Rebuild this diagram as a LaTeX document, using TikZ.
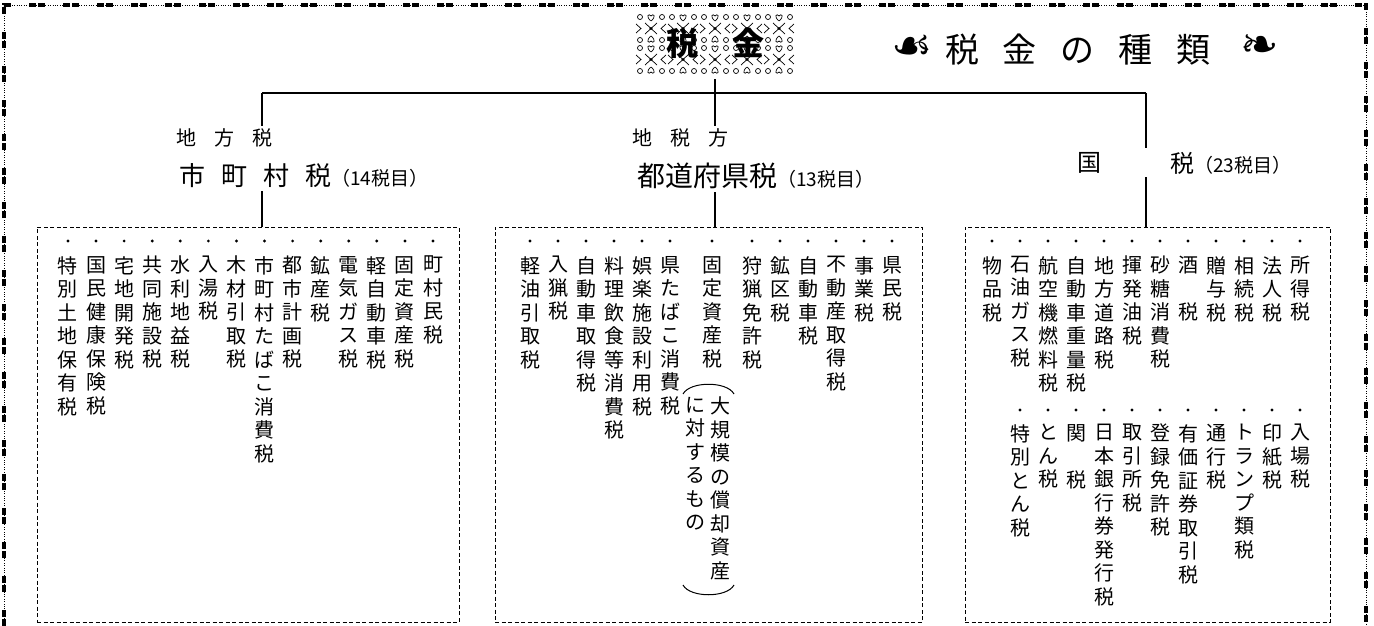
\documentclass[tikz,border=0pt]{standalone}
\usepackage{fontspec}
\newfontfamily\jp{Noto Sans CJK JP}
\newfontfamily\orn{DejaVu Sans}

% vertical text: one character per row
\makeatletter
\newcommand\tate[1]{\edef\tate@s{#1}\vbox{\baselineskip=23.5pt\lineskip=0pt\lineskiplimit=-100pt\expandafter\tate@loop\tate@s\relax}}
\def\tate@loop#1{\ifx\relax#1\else\hbox to 22pt{\hss#1\hss}\expandafter\tate@loop\fi}
\makeatother
\protected\def\aki{\phantom{税}}

\begin{document}
\begin{tikzpicture}[x=1pt, y=-1pt,
    col/.style={anchor=north, inner sep=0pt, font=\jp\fontsize{20pt}{23.5pt}\selectfont},
    taxbox/.style={draw, line width=0.6pt, dash pattern=on 4pt off 2.5pt, inner sep=0pt},
    conn/.style={line width=1.6pt},
    pat/.style={line width=0.7pt},
    rimthick/.style={line width=3.2pt, dash pattern=on 7pt off 2pt on 7pt off 18pt},
    rimthin/.style={line width=0.6pt, dash pattern=on 0.8pt off 1.6pt}]
\useasboundingbox (0,0) rectangle (1374,626);

% Frame
\draw[rimthin] (4,626) -- (4,5) -- (1366,5) -- (1366,626);
\draw[rimthick] (4,626) -- (4,5) -- (1366,5) -- (1366,626);

% Header pattern
\foreach \i in {0,...,4}
    \foreach \j in {0,1} {
        \begin{scope}[shift={(635+32*\i,13+31*\j)}]
            \draw[pat] (5,4) circle (2.5pt) (27,4) circle (2.5pt) (5,27) circle (2.5pt) (27,27) circle (2.5pt);
            \draw[pat] (10,10) -- (22,21) (22,10) -- (10,21);
            \draw[pat] (1,11) -- (6,15.5) -- (1,20) (31,11) -- (26,15.5) -- (31,20);
            \draw[pat] (16,8) .. controls (10,3) and (14,0) .. (16,3) .. controls (18,0) and (22,3) .. (16,8);
            \draw[pat] (16,23) .. controls (10,28) and (14,31) .. (16,28) .. controls (18,31) and (22,28) .. (16,23);
            \fill (16,15.5) circle (1.7pt);
        \end{scope}
    }
\node[minimum width=160pt, minimum height=66pt, inner sep=0pt] (head) at (715,46) {};
\node[font=\jp\bfseries\fontsize{32pt}{32pt}\selectfont] (head-zei) at (682,43) {税};
\node[font=\jp\bfseries\fontsize{32pt}{32pt}\selectfont] (head-kin) at (748,43) {金};

% Title
\node[font=\orn\fontsize{46pt}{46pt}\selectfont] (orn-l) at (912,48) {☙};
\node[font=\jp\fontsize{34pt}{34pt}\selectfont] (title) at (1078,50) {税\hspace{24pt}金\hspace{24pt}の\hspace{24pt}種\hspace{24pt}類};
\node[font=\orn\fontsize{46pt}{46pt}\selectfont] (orn-r) at (1260,48) {❧};

% Branch labels
\node[inner sep=3pt, font=\jp\fontsize{20pt}{20pt}\selectfont] (l-chiho) at (224,138) {地\hspace{18pt}方\hspace{18pt}税};
\node[anchor=west, inner sep=3pt, font=\jp\fontsize{26pt}{26pt}\selectfont] (l-shi) at (176,176)
    {市\hspace{16pt}町\hspace{16pt}村\hspace{16pt}税{\fontsize{19pt}{19pt}\selectfont（14税目）}};
\node[inner sep=3pt, font=\jp\fontsize{20pt}{20pt}\selectfont] (m-chiho) at (680,138) {地\hspace{18pt}税\hspace{18pt}方};
\node[anchor=west, inner sep=3pt, font=\jp\fontsize{28pt}{28pt}\selectfont] (m-todo) at (634,176)
    {都道府県税{\fontsize{19pt}{19pt}\selectfont（13税目）}};
\node[font=\jp\fontsize{24pt}{24pt}\selectfont] (koku) at (1089,163) {国};
\node[anchor=west, inner sep=0pt, font=\jp\fontsize{24pt}{24pt}\selectfont] (zei) at (1170,163)
    {税{\fontsize{19pt}{19pt}\selectfont（23税目）}};
\coordinate (koku-gap) at (1146,162);

% Boxes
\node[taxbox, minimum width=422pt, minimum height=395pt] (box-l) at (248,424.5) {};
\node[taxbox, minimum width=427pt, minimum height=395pt] (box-m) at (708.5,424.5) {};
\node[taxbox, minimum width=365pt, minimum height=395pt] (box-r) at (1147.5,424.5) {};

% Connectors
\coordinate (bar-l) at (262,93);
\coordinate (bar-m) at (715,93);
\coordinate (bar-r) at (1146,93);
\draw[conn] (bar-l) -- (bar-r);
\draw[conn] (head.south -| bar-m) -- (bar-m |- m-chiho.north);
\draw[conn] (bar-l) -- (bar-l |- l-chiho.north);
\draw[conn] (bar-l |- l-shi.south) -- (bar-l |- box-l.north);
\draw[conn] (bar-m |- m-todo.south) -- (bar-m |- box-m.north);
\draw[conn] (bar-r) -- ([yshift=14pt]koku-gap);
\draw[conn] ([yshift=-15pt]koku-gap) -- (bar-r |- box-r.north);

% Municipal taxes
\foreach \tx [count=\i from 0] in {町村民税,固定資産税,軽自動車税,電気ガス税,鉱産税,都市計画税,市町村たばこ消費税,
        木材引取税,入湯税,水利地益税,共同施設税,宅地開発税,国民健康保険税,特別土地保有税} {
    \fill (433-28.08*\i,241) circle (1.6pt);
    \node[col] (l\i) at (433-28.08*\i,256) {\tate{\tx}};
}

% Prefectural taxes
\foreach \tx [count=\i from 0] in {県民税,事業税,不動産取得税,自動車税,鉱区税,狩猟免許税} {
    \fill (892-28*\i,241) circle (1.6pt);
    \node[col] (m\i) at (892-28*\i,256) {\tate{\tx}};
}
\foreach \tx [count=\i from 0] in {県たばこ消費税,娯楽施設利用税,料理飲食等消費税,自動車取得税,入猟税,軽油引取税} {
    \fill (670-28*\i,241) circle (1.6pt);
    \node[col] (n\i) at (670-28*\i,256) {\tate{\tx}};
}
\fill (712,241) circle (1.6pt);
\node[col] (kotei) at (712,256) {\tate{固定資産税}};
\node[col] (kotei-a) at (720,397) {\tate{大規模の償却資産}};
\node[col] (kotei-b) at (695,397) {\tate{に対するもの}};
\draw[line width=1pt] (683,394) .. controls (690,381) and (727,381) .. (734,394);
\draw[line width=1pt] (683,585) .. controls (690,598) and (727,598) .. (734,585);

% National taxes
\foreach \tx [count=\i from 0] in {所得税,法人税,相続税,贈与税,酒\aki 税,砂糖消費税,揮発油税,地方道路税,
        自動車重量税,航空機燃料税,石油ガス税,物品税} {
    \fill (1300-28*\i,241) circle (1.6pt);
    \node[col] (r\i) at (1300-28*\i,256) {\tate{\tx}};
}
\foreach \tx [count=\i from 0] in {入場税,印紙税,トランプ類税,通行税,有価証券取引税,登録免許税,取引所税,
        日本銀行券発行税,関\aki 税,とん税,特別とん税} {
    \fill (1300-28*\i,410) circle (1.6pt);
    \node[col] (s\i) at (1300-28*\i,424) {\tate{\tx}};
}
\end{tikzpicture}
\end{document}
